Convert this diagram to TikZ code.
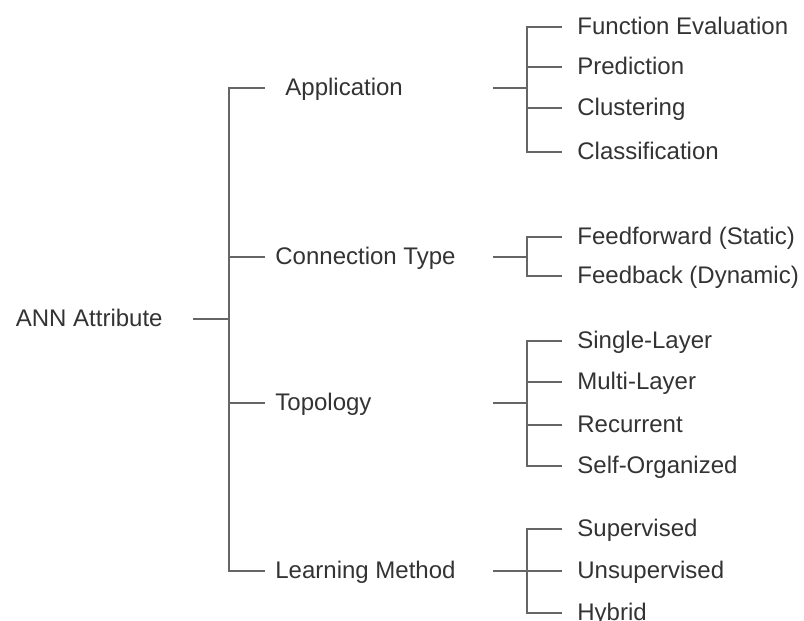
\documentclass[tikz,border=0pt]{standalone}
\usepackage{fontspec}
\setmainfont{Liberation Sans}
\usetikzlibrary{positioning}

\begin{document}
\begin{tikzpicture}[
  x=0.5pt, y=-0.5pt,
  t/.style={anchor=west, font=\fontsize{12}{14}\selectfont, text=black!80,
            inner ysep=0pt, text height=0.72em, text depth=0pt},
  l1/.style={t, inner xsep=5pt},
  l2/.style={t, inner xsep=7.5pt},
  ln/.style={draw=black!60, line width=1pt}
]
\useasboundingbox (0,0) rectangle (804,621);
\node[t, anchor=east, inner xsep=15pt] (ann) at (193,319) {ANN Attribute};
\coordinate (j) at (229,319);
\node[l1] (app) at (265,88) {\hspace{5pt}Application};
\node[l1] (con) at (265,257) {Connection Type};
\node[l1] (top) at (265,403) {Topology};
\node[l1] (lrn) at (265,571) {Learning Method};
\foreach \n/\y/\s in {fe/27/Function Evaluation, pr/67/Prediction, cu/108/Clustering,
    cl/152/Classification, ff/237/Feedforward (Static), fb/276/Feedback (Dynamic),
    sl/341/Single-Layer, ml/382/Multi-Layer, rc/425/Recurrent, so/466/Self-Organized,
    su/529/Supervised, un/571/Unsupervised, hy/613/Hybrid}
  \node[l2] (\n) at (562,\y) {\s};
\coordinate (sa) at (493,88);  \coordinate (ka) at (527,88);
\coordinate (sc) at (493,257); \coordinate (kc) at (527,257);
\coordinate (st) at (493,403); \coordinate (kt) at (527,403);
\coordinate (sl0) at (493,571); \coordinate (kl) at (527,571);
% root bracket
\draw[ln] (ann.east) -- (j);
\draw[ln] (app.west) -- (app.west -| j) -- (lrn.west -| j) -- (lrn.west);
\draw[ln] (con.west) -- (con.west -| j);
\draw[ln] (top.west) -- (top.west -| j);
% sub brackets
\draw[ln] (sa) -- (ka);
\draw[ln] (fe.west) -| (ka) |- (cl.west);
\draw[ln] (pr.west) -- (pr.west -| ka);
\draw[ln] (cu.west) -- (cu.west -| ka);
\draw[ln] (sc) -- (kc);
\draw[ln] (ff.west) -| (kc) |- (fb.west);
\draw[ln] (st) -- (kt);
\draw[ln] (sl.west) -| (kt) |- (so.west);
\draw[ln] (ml.west) -- (ml.west -| kt);
\draw[ln] (rc.west) -- (rc.west -| kt);
\draw[ln] (sl0) -- (kl);
\draw[ln] (su.west) -| (kl) |- (hy.west);
\draw[ln] (un.west) -- (kl);
\end{tikzpicture}
\end{document}
